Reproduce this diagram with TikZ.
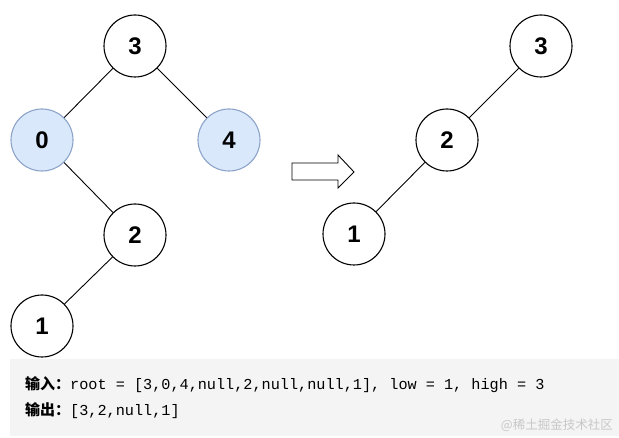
\documentclass[tikz,border=0pt]{standalone}
\usepackage{fontspec}
\setmainfont{Liberation Sans}
\setmonofont{Liberation Mono}
\newfontfamily\cjk{Noto Sans CJK SC}
\definecolor{hlfill}{HTML}{DAE8FC}
\definecolor{hldraw}{HTML}{8DA4C8}
\definecolor{boxgray}{HTML}{F4F4F4}
\definecolor{wmgray}{HTML}{C8C8C8}
\begin{document}
\begin{tikzpicture}[x=1pt,y=-1pt,
  tnode/.style={circle,draw=black,line width=1.1pt,fill=white,minimum size=62pt,inner sep=0pt,font=\fontsize{24}{28}\selectfont\bfseries},
  hnode/.style={tnode,draw=hldraw,fill=hlfill},
  edge/.style={line width=0.9pt,draw=black}]
\useasboundingbox (0,0) rectangle (619,438);
\fill[white] (0,0) rectangle (619,438);
% left tree
\node[tnode] (a3) at (135,46) {3};
\node[hnode] (a0) at (42,140) {0};
\node[hnode] (a4) at (229,140) {4};
\node[tnode] (a2) at (135,235) {2};
\node[tnode] (a1) at (42,326) {1};
\draw[edge] (a3) -- (a0);
\draw[edge] (a3) -- (a4);
\draw[edge] (a0) -- (a2);
\draw[edge] (a2) -- (a1);
% arrow
\draw[line width=0.9pt,fill=white] (292,163) -- (338,163) -- (338,155) -- (354,172) -- (338,188) -- (338,180) -- (292,180) -- cycle;
% right tree
\node[tnode] (b3) at (541,46) {3};
\node[tnode] (b2) at (447,140) {2};
\node[tnode] (b1) at (354,234) {1};
\draw[edge] (b3) -- (b2);
\draw[edge] (b2) -- (b1);
% text box
\fill[boxgray] (10,359) rectangle (619,436);
\node[anchor=west,inner sep=0pt] (t1) at (25,385) {{\cjk\bfseries\fontsize{15}{17}\selectfont 输入：}{\ttfamily\fontsize{15.2}{18}\selectfont root = [3,0,4,null,2,null,null,1], low = 1, high = 3}};
\node[anchor=west,inner sep=0pt] (t2) at (25,411) {{\cjk\bfseries\fontsize{15}{17}\selectfont 输出：}{\ttfamily\fontsize{15.2}{18}\selectfont [3,2,null,1]}};
\node[anchor=east,inner sep=0pt,text=wmgray] (wm) at (613,425) {\cjk\fontsize{12.5}{14}\selectfont @稀土掘金技术社区};
\end{tikzpicture}
\end{document}
